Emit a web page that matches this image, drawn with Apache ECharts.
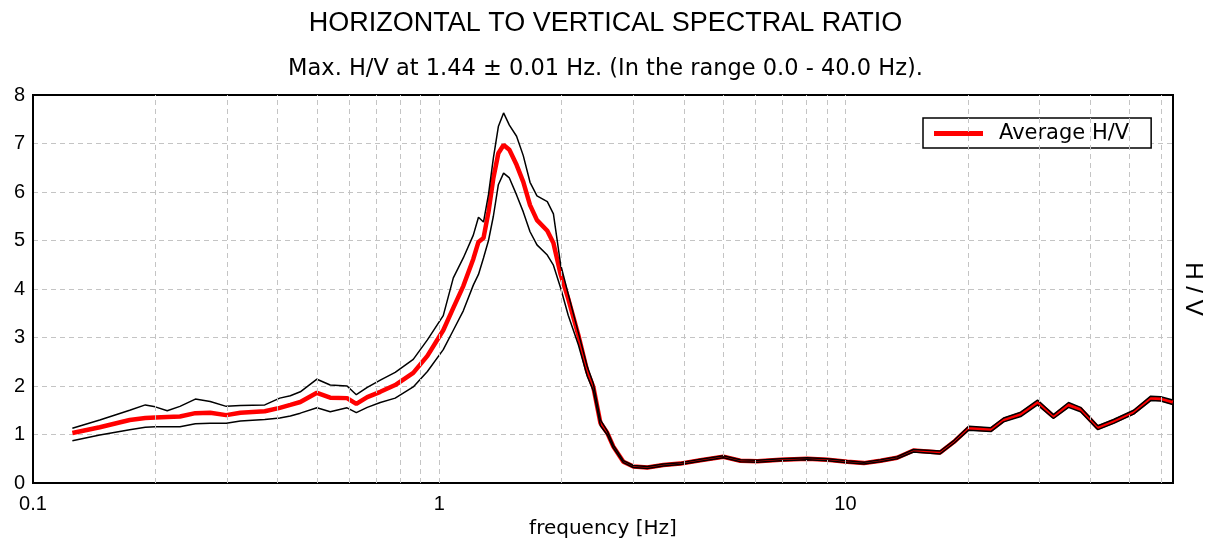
<!DOCTYPE html>
<html>
<head>
<meta charset="utf-8">
<title>Horizontal to Vertical Spectral Ratio</title>
<script src="https://cdn.jsdelivr.net/npm/echarts@6/dist/echarts.min.js"></script>
<style>
  html, body { margin: 0; padding: 0; background: #fff; }
  #chart { width: 1211px; height: 538px; }
</style>
</head>
<body>
<div id="chart"></div>
<script>
// Frequency samples [Hz]
const freqs = [
  0.125, 0.146, 0.173, 0.189, 0.200, 0.214, 0.230, 0.251, 0.273, 0.299,
  0.324, 0.372, 0.405, 0.430, 0.455, 0.500, 0.539, 0.593, 0.625, 0.665,
  0.716, 0.779, 0.863, 0.935, 1.023, 1.083, 1.146, 1.213, 1.249, 1.285,
  1.322, 1.359, 1.398, 1.44, 1.488, 1.550, 1.610, 1.673, 1.740, 1.845,
  1.910, 1.990, 2.077, 2.20, 2.314, 2.395, 2.493, 2.593, 2.683, 2.839,
  3.005, 3.253, 3.562, 3.922, 4.395, 5.005, 5.512, 6.072, 6.918, 8.06,
  9.03, 10.1, 11.1, 12.2, 13.4, 14.7, 17.1, 18.5, 20.1, 22.8,
  24.5, 27.0, 29.7, 32.5, 35.4, 37.9, 41.8, 45.7, 51.2, 56.4,
  59.7, 63.9
];

// Average H/V ratio
const avgHV = [
  1.03, 1.15, 1.30, 1.34, 1.35, 1.36, 1.37, 1.44, 1.45, 1.40,
  1.45, 1.48, 1.55, 1.61, 1.67, 1.86, 1.76, 1.75, 1.63, 1.77,
  1.88, 2.02, 2.27, 2.62, 3.15, 3.61, 4.06, 4.62, 4.97, 5.05,
  5.59, 6.29, 6.80, 6.97, 6.87, 6.56, 6.21, 5.73, 5.42, 5.20,
  4.95, 4.30, 3.80, 3.05, 2.30, 1.98, 1.24, 1.03, 0.75, 0.44,
  0.34, 0.32, 0.37, 0.40, 0.47, 0.54, 0.46, 0.45, 0.48, 0.50,
  0.48, 0.44, 0.41, 0.46, 0.52, 0.67, 0.63, 0.85, 1.13, 1.10,
  1.30, 1.42, 1.66, 1.37, 1.61, 1.52, 1.14, 1.27, 1.46, 1.74,
  1.73, 1.66
];

// Average + standard deviation
const upperHV = [
  1.13, 1.30, 1.50, 1.61, 1.57, 1.49, 1.58, 1.73, 1.68, 1.58,
  1.60, 1.61, 1.75, 1.80, 1.88, 2.14, 2.02, 2.00, 1.82, 1.97,
  2.12, 2.28, 2.55, 2.95, 3.45, 4.23, 4.64, 5.11, 5.48, 5.38,
  5.95, 6.70, 7.35, 7.63, 7.38, 7.15, 6.75, 6.20, 5.92, 5.80,
  5.55, 4.50, 3.90, 3.10, 2.40, 2.05, 1.30, 1.07, 0.78, 0.46,
  0.36, 0.34, 0.39, 0.42, 0.49, 0.56, 0.48, 0.47, 0.50, 0.52,
  0.50, 0.46, 0.43, 0.48, 0.54, 0.69, 0.66, 0.88, 1.17, 1.14,
  1.34, 1.46, 1.71, 1.41, 1.66, 1.56, 1.18, 1.31, 1.50, 1.79,
  1.78, 1.71
];

// Average - standard deviation
const lowerHV = [
  0.87, 0.99, 1.10, 1.15, 1.16, 1.16, 1.16, 1.22, 1.23, 1.23,
  1.28, 1.31, 1.34, 1.38, 1.44, 1.55, 1.47, 1.55, 1.45, 1.56,
  1.66, 1.75, 1.98, 2.30, 2.75, 3.15, 3.55, 4.08, 4.30, 4.64,
  5.00, 5.50, 6.15, 6.39, 6.29, 5.94, 5.59, 5.18, 4.91, 4.70,
  4.49, 4.02, 3.46, 2.85, 2.20, 1.90, 1.18, 0.99, 0.72, 0.42,
  0.32, 0.30, 0.35, 0.38, 0.45, 0.52, 0.44, 0.43, 0.46, 0.48,
  0.46, 0.42, 0.39, 0.44, 0.50, 0.64, 0.60, 0.82, 1.09, 1.06,
  1.26, 1.37, 1.61, 1.33, 1.56, 1.47, 1.10, 1.23, 1.42, 1.70,
  1.69, 1.62
];

// Vertical grid positions on the logarithmic frequency axis
const gridFreqs = [
  0.2, 0.3, 0.4, 0.5, 0.6, 0.7, 0.8, 0.9, 1,
  2, 3, 4, 5, 6, 7, 8, 9, 10,
  20, 30, 40, 50, 60
];

const FREQ_MIN = 0.1;
const FREQ_MAX = 64;
const HV_MIN = 0;
const HV_MAX = 8;

const titleText = 'HORIZONTAL TO VERTICAL SPECTRAL RATIO';
const subtitleText = 'Max. H/V at 1.44 \u00B1 0.01 Hz. (In the range 0.0 - 40.0 Hz).';

const pairs = (ys) => freqs.map((f, i) => [f, ys[i]]);

const gridColor = '#c4c4c4';
const frameLine = { show: true, lineStyle: { color: '#000', width: 2 } };
const sans = '"Liberation Sans", Arial, sans-serif';
const wide = '"DejaVu Sans", sans-serif';

const chart = echarts.init(document.getElementById('chart'), null, { renderer: 'canvas' });

chart.setOption({
  animation: false,
  backgroundColor: '#ffffff',
  title: [
    {
      text: titleText,
      left: 'center',
      top: 5,
      textStyle: { fontFamily: sans, fontSize: 27, fontWeight: 'normal', color: '#000' }
    },
    {
      text: subtitleText,
      left: 'center',
      top: 53,
      textStyle: { fontFamily: wide, fontSize: 22.5, fontWeight: 'normal', color: '#000' }
    }
  ],
  legend: {
    data: ['Average H/V'],
    left: 923,
    top: 118,
    icon: 'rect',
    itemWidth: 49,
    itemHeight: 5,
    padding: [5, 22, 4, 11],
    backgroundColor: '#ffffff',
    borderColor: '#000000',
    borderWidth: 1.5,
    selectedMode: false,
    textStyle: { fontFamily: wide, fontSize: 21, color: '#000', padding: [0, 0, 0, 11] }
  },
  grid: {
    left: 33,
    right: 38,
    top: 95,
    bottom: 55,
    outerBoundsMode: 'none',
    containLabel: false,
    show: true,
    backgroundColor: 'transparent',
    borderColor: '#000000',
    borderWidth: 2
  },
  xAxis: {
    type: 'log',
    logBase: 10,
    min: FREQ_MIN,
    max: FREQ_MAX,
    name: 'frequency [Hz]',
    nameLocation: 'middle',
    nameGap: 30,
    nameTextStyle: { fontFamily: wide, fontSize: 20, color: '#000' },
    axisLine: frameLine,
    axisTick: { show: false },
    splitLine: { show: false },
    axisLabel: {
      fontFamily: sans,
      fontSize: 20,
      color: '#000',
      margin: 11,
      showMaxLabel: false,
      formatter: (v) => String(v)
    }
  },
  yAxis: [
    {
      type: 'value',
      min: HV_MIN,
      max: HV_MAX,
      interval: 1,
      axisLine: frameLine,
      axisTick: { show: false },
      axisLabel: { fontFamily: sans, fontSize: 20, color: '#000', margin: 8 },
      splitLine: {
        show: true,
        showMinLine: false,
        showMaxLine: false,
        lineStyle: { color: gridColor, width: 1, type: [5, 4] }
      }
    },
    {
      type: 'value',
      position: 'right',
      min: HV_MIN,
      max: HV_MAX,
      name: 'H / V',
      nameLocation: 'middle',
      nameRotate: -90,
      nameGap: 8,
      nameTextStyle: { fontFamily: sans, fontSize: 24, color: '#000' },
      axisLine: frameLine,
      axisTick: { show: false },
      axisLabel: { show: false },
      splitLine: { show: false }
    }
  ],
  series: [
    {
      name: 'grid',
      type: 'line',
      data: [],
      z: 1,
      silent: true,
      markLine: {
        silent: true,
        symbol: ['none', 'none'],
        label: { show: false },
        lineStyle: { color: gridColor, width: 1, type: [5, 4] },
        emphasis: { disabled: true },
        data: gridFreqs.map((f) => ({ xAxis: f }))
      }
    },
    {
      name: 'Average H/V',
      type: 'line',
      data: pairs(avgHV),
      symbol: 'none',
      z: 3,
      lineStyle: { color: '#ff0000', width: 4.5 },
      itemStyle: { color: '#ff0000' }
    },
    {
      name: 'Average + std',
      type: 'line',
      data: pairs(upperHV),
      symbol: 'none',
      z: 4,
      lineStyle: { color: '#000000', width: 1.5 }
    },
    {
      name: 'Average - std',
      type: 'line',
      data: pairs(lowerHV),
      symbol: 'none',
      z: 4,
      lineStyle: { color: '#000000', width: 1.5 }
    }
  ]
});
</script>
</body>
</html>
